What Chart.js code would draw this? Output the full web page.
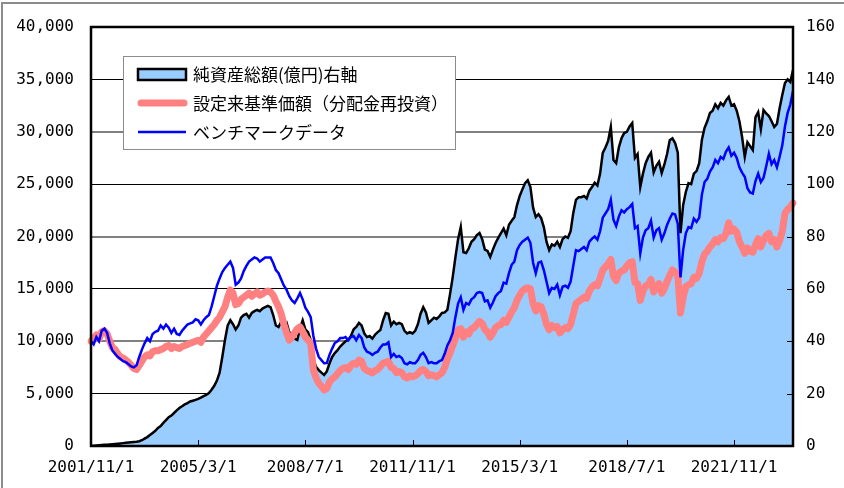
<!DOCTYPE html>
<html>
<head>
<meta charset="utf-8">
<script src="https://cdn.jsdelivr.net/npm/chart.js@4"></script>
<style>
  html, body { margin: 0; padding: 0; background: #fff; }
  canvas { display: block; }
</style>
</head>
<body>
<canvas id="fundChart" width="844" height="488"></canvas>
<script>
// monthly points, 2001/11 .. 2023/9
const startYear = 2001, startMonth = 11, pointCount = 263;
const tickLabels = ['2001/11/1', '2005/3/1', '2008/7/1', '2011/11/1', '2015/3/1', '2018/7/1', '2021/11/1'];

const seriesNames = ['純資産総額(億円)右軸', '設定来基準価額（分配金再投資）', 'ベンチマークデータ'];

// 純資産総額 (億円, right axis)
const netAssets = [
  0, 0.1,
  0.2, 0.3, 0.4, 0.5, 0.5, 0.6, 0.7, 0.8, 0.9, 1.0, 1.1, 1.2,
  1.3, 1.4, 1.5, 1.6, 1.8, 2.2, 2.8, 3.4, 4.2, 5.0, 5.8, 6.9,
  7.6, 8.8, 9.9, 11.0, 11.6, 12.6, 13.6, 14.5, 15.2, 15.9, 16.4, 17.0,
  17.3, 17.6, 18.0, 18.5, 19.0, 19.5, 20.2, 21.5, 23.0, 25.0, 28.0, 34.0,
  40.5, 46.0, 48.0, 46.5, 44.5, 46.0, 49.0, 50.0, 50.5, 49.0, 50.8, 51.5,
  52.0, 51.5, 52.5, 53.0, 53.5, 53.0, 50.0, 46.0, 45.4, 47.5, 46.0, 47.0,
  43.5, 42.0, 41.0, 40.5, 45.0, 48.0, 44.5, 43.5, 40.5, 33.0, 30.2, 29.0,
  28.0, 27.1, 28.5, 31.5, 34.0, 35.5, 36.6, 38.0, 39.0, 40.0, 40.5, 42.0,
  44.5, 45.5, 47.0, 46.0, 43.0, 41.6, 42.0, 41.0, 42.5, 43.5, 44.3, 48.0,
  50.8, 50.5, 46.0, 47.5, 46.5, 47.0, 46.5, 44.0, 43.0, 43.5, 43.0, 44.0,
  46.5, 50.5, 53.0, 51.0, 47.0, 48.0, 49.0, 48.5, 49.5, 50.8, 51.0, 52.0,
  58.0, 64.5, 72.0, 79.0, 83.6, 74.0, 73.7, 75.5, 78.0, 79.0, 80.5, 81.3,
  79.0, 75.0, 74.5, 72.2, 75.0, 77.5, 79.5, 81.3, 83.0, 80.5, 84.5, 86.0,
  87.4, 92.0, 95.5, 98.0, 100.4, 101.5, 98.9, 91.0, 87.4, 88.5, 87.0, 83.6,
  78.0, 74.8, 77.0, 76.5, 78.0, 76.0, 79.0, 80.0, 79.5, 82.0, 89.0, 94.0,
  95.0, 95.0, 95.5, 94.5, 97.5, 98.9, 100.5, 99.5, 104.0, 111.9, 114.0, 116.5,
  121.8, 109.2, 108.0, 114.0, 117.5, 119.5, 120.0, 122.0, 123.3, 110.0, 111.5, 98.9,
  104.0, 108.0, 110.4, 112.0, 104.5, 107.0, 108.5, 104.2, 107.5, 111.5, 116.8, 117.5,
  115.7, 112.0, 81.3, 92.0, 97.0, 100.4, 100.0, 104.0, 105.0, 108.0, 117.0, 121.5,
  124.0, 127.2, 128.0, 130.5, 129.0, 131.0, 130.0, 132.0, 133.3, 130.0, 130.5, 128.0,
  124.0, 118.0, 110.4, 116.0, 114.5, 113.0, 125.6, 127.5, 121.0, 128.3, 127.0, 126.0,
  124.0, 121.8, 123.0, 129.0, 134.0, 138.6, 140.0, 139.0, 143.6
];

// 設定来基準価額 (円, left axis)
const navReinvested = [
  10000, 10300,
  10600, 10200, 10900, 11000, 10700, 10000, 9400, 9200, 8800, 8500, 8400, 8200,
  8000, 7700, 7400, 7300, 7700, 8100, 8500, 8700, 8600, 9000, 9100, 9100,
  9200, 9300, 9500, 9600, 9300, 9500, 9400, 9300, 9500, 9600, 9700, 9800,
  9900, 10000, 10100, 9900, 10400, 10700, 11000, 11300, 11600, 12000, 12300, 12800,
  13300, 14200, 14900, 14600, 13500, 13600, 14000, 14200, 14400, 14600, 14300, 14500,
  14700, 14400, 14500, 14700, 14800, 14700, 14400, 13800, 13300, 12600, 11600, 10800,
  10100, 10400, 10800, 11200, 11360, 10900, 10400, 10100, 9800, 7250, 6500, 6000,
  5700, 5350, 5500, 6100, 6400, 6600, 6900, 7200, 7400, 7500, 7300, 7700,
  7900, 7800, 8200, 8100, 7400, 7200, 7100, 6970, 7200, 7300, 7600, 7900,
  8000, 8100, 7500, 7400, 7000, 7100, 7000, 6600, 6500, 6700, 6600, 6700,
  6900, 7200, 7300, 7100, 6700, 6800, 6700, 6600, 6800, 7000, 7500, 8300,
  8900, 9600, 10300, 11100, 11200, 10400, 10900, 10700, 11200, 11300, 11600, 11900,
  11700, 11100, 10900, 10400, 10800, 11300, 11500, 11600, 12000, 11800, 12300, 12800,
  13200, 13900, 14400, 14800, 15000, 15100, 15000, 13600, 12900, 13400, 13300, 12600,
  11600, 11100, 11500, 11300, 11400, 10800, 11100, 11300, 11200, 11600, 12600, 13600,
  13800, 14000, 14200, 14100, 14800, 15200, 15400, 15300, 16000, 16800, 17100, 17400,
  17800, 16200, 15800, 16500, 16700, 16800, 17200, 17500, 17600, 15600, 15500, 13900,
  14800, 15300, 15400, 15900, 14700, 15200, 15500, 14600, 15000, 15700, 16300, 16800,
  16600, 16300, 12700, 14200, 15200, 15400, 15500, 16100, 16000, 16500, 17600, 18300,
  18600, 19000, 19300, 19700, 19500, 19900, 19800, 20300, 21300, 20500, 20700, 20400,
  19500, 19000, 18400, 18900, 18600, 18500, 19200, 19800, 19000, 19600, 20100, 20300,
  19500, 19700, 19000, 19600, 20500, 22200, 22600, 22800, 23200
];

// ベンチマークデータ (left axis)
const benchmark = [
  10000, 9700,
  10400, 10000, 11000, 11200, 10800, 9800, 9100, 8800, 8500, 8300, 8100, 8000,
  7800, 7600, 7500, 7700, 8500, 9200, 9800, 10300, 10000, 10700, 10900, 11000,
  11500, 11200, 11600, 11300, 10800, 11200, 10700, 10600, 11000, 11300, 11600, 11700,
  11800, 12100, 12000, 11600, 12000, 12300, 12500, 13300, 14300, 15300, 16000, 16600,
  17000, 17300, 17600, 17000, 15400, 15600, 16000, 16700, 17200, 17600, 17800, 18000,
  17900, 17600, 17800, 18000, 18000, 18000, 17470, 16800, 16500, 15900, 15300, 14900,
  14300, 13900, 13650, 14100, 14600, 14000, 13200, 12800, 12300, 10500, 9300, 8500,
  8200, 7900, 7920, 8700, 9300, 9830, 10000, 10300, 10300, 10400, 10100, 10400,
  10500, 10100, 10600, 10300, 9400, 9000, 8900, 8700, 8900, 9000, 9400, 9700,
  9700, 9900, 8500, 8800, 8500, 8600, 8400, 7900, 7800, 8000, 7900, 7900,
  8200, 8700, 8900, 8500, 7900, 8000, 7900, 7900, 8100, 8200, 8800, 9600,
  10100, 10800, 12300, 13600, 14200, 13000, 13650, 13500, 14000, 14200, 14600, 14700,
  14600, 13800, 13900, 13200, 13700, 14300, 14600, 14800, 15600, 15500, 16500, 17300,
  17600, 18700, 19200, 19500, 19700, 19900, 19400, 17500, 16500, 17500, 17600, 16800,
  15700, 14600, 15100, 15000, 15400, 14400, 15200, 15300, 15100, 15700, 17200, 18700,
  18600, 18800, 19000, 18700, 19500, 19800, 20000, 19700, 20500, 21800, 22200, 22600,
  23500, 21600, 21000, 21900, 22500, 22300, 22600, 22800, 23100, 20800, 21000, 18400,
  19900, 20600, 20800, 21500, 19900, 20600, 20800, 19700, 20300, 21100, 21700, 22200,
  22100, 21200, 16100, 18700, 20300, 20900, 20800, 21700, 21400, 21800, 24000, 25200,
  25500, 26200, 26600, 27300, 27000, 27600, 27400, 28100, 28500, 27700, 28000, 27500,
  26600, 26100, 25700, 24600, 24200, 24100, 25300, 26000, 25200, 25600, 26700, 27900,
  26900, 27300, 26600, 27600, 28700, 30500, 31800, 32600, 33900
];

const labels = [];
for (let i = 0; i < pointCount; i++) {
  const t = (startMonth - 1) + i;
  labels.push((startYear + Math.floor(t / 12)) + '/' + (t % 12 + 1) + '/1');
}

// outer frame, plot border, inward ticks and the boxed legend
const decorations = {
  id: 'decorations',
  beforeDraw(chart) {
    const c = chart.ctx;
    c.save();
    c.strokeStyle = '#8c8c8c';
    c.lineWidth = 2;
    c.beginPath();
    c.moveTo(2, 500); c.lineTo(2, 3); c.lineTo(850, 3);
    c.stroke();
    c.restore();
  },
  afterDraw(chart) {
    const c = chart.ctx, a = chart.chartArea;
    const xs = chart.scales.x, y2 = chart.scales.y2;
    c.save();
    c.strokeStyle = '#000';
    c.lineWidth = 1;
    c.beginPath();
    for (let v = 20; v < 160; v += 20) {
      const py = Math.round(y2.getPixelForValue(v)) + 0.5;
      c.moveTo(a.right - 6, py); c.lineTo(a.right, py);
    }
    tickLabels.slice(1).forEach(l => {
      const px = Math.round(xs.getPixelForValue(labels.indexOf(l))) + 0.5;
      c.moveTo(px, a.bottom - 6); c.lineTo(px, a.bottom);
    });
    c.stroke();

    c.lineWidth = 2.5;
    c.strokeRect(a.left, a.top, a.right - a.left, a.bottom - a.top);

    // legend
    const bx = 123.5, by = 56.5, bw = 332, bh = 93;
    c.fillStyle = '#fff';
    c.fillRect(bx, by, bw, bh);
    c.strokeStyle = '#8c8c8c';
    c.lineWidth = 1;
    c.strokeRect(bx, by, bw, bh);

    const rows = [74, 103, 132];
    c.fillStyle = '#99CCFF';
    c.fillRect(138, 69, 48, 11);
    c.strokeStyle = '#000';
    c.lineWidth = 2.5;
    c.strokeRect(138, 69, 48, 11);

    c.lineCap = 'round';
    c.strokeStyle = '#FF8080';
    c.lineWidth = 7;
    c.beginPath(); c.moveTo(141, rows[1]); c.lineTo(184, rows[1]); c.stroke();
    c.lineCap = 'butt';
    c.strokeStyle = '#0000FF';
    c.lineWidth = 2.5;
    c.beginPath(); c.moveTo(138, rows[2]); c.lineTo(186, rows[2]); c.stroke();

    c.fillStyle = '#000';
    c.font = '17px "Noto Sans CJK JP"';
    c.textBaseline = 'middle';
    chart.data.datasets.forEach((ds, i) => c.fillText(ds.label, 193, rows[i] + 1));
    c.restore();
  }
};

Chart.defaults.font.family = '"DejaVu Sans Mono", monospace';
Chart.defaults.font.size = 16;
Chart.defaults.color = '#000';

new Chart(document.getElementById('fundChart').getContext('2d'), {
  type: 'line',
  data: {
    labels: labels,
    datasets: [{
      label: seriesNames[0],
      data: netAssets,
      yAxisID: 'y2',
      borderColor: '#000',
      borderWidth: 2.5,
      backgroundColor: '#99CCFF',
      fill: 'origin',
      order: 3
    }, {
      label: seriesNames[1],
      data: navReinvested,
      yAxisID: 'y',
      borderColor: '#FF8080',
      borderWidth: 7,
      borderCapStyle: 'round',
      borderJoinStyle: 'round',
      fill: false,
      order: 2
    }, {
      label: seriesNames[2],
      data: benchmark,
      yAxisID: 'y',
      borderColor: '#0000FF',
      borderWidth: 2.5,
      fill: false,
      order: 1
    }]
  },
  options: {
    responsive: false,
    animation: false,
    layout: { padding: { top: 27, left: 0, right: 0, bottom: 0 } },
    elements: { point: { radius: 0 }, line: { tension: 0 } },
    plugins: { legend: { display: false }, tooltip: { enabled: false } },
    scales: {
      x: {
        type: 'category',
        offset: false,
        grid: { display: false, drawTicks: false },
        border: { display: false },
        ticks: {
          autoSkip: false,
          maxRotation: 0,
          padding: 12,
          callback: function (v) {
            const l = this.getLabelForValue(v);
            return tickLabels.includes(l) ? l : null;
          }
        },
        afterFit: s => { s.height = 42; }
      },
      y: {
        position: 'left',
        min: 0,
        max: 40000,
        border: { display: false },
        grid: {
          drawTicks: false,
          color: ctx => ctx.tick.value % 10000 === 0 ? '#808080' : '#000',
          lineWidth: ctx => ctx.tick.value % 10000 === 0 ? 2 : 1
        },
        ticks: {
          stepSize: 5000,
          padding: 17,
          callback: v => v.toLocaleString('en-US')
        },
        afterFit: s => { s.width = 91; }
      },
      y2: {
        position: 'right',
        min: 0,
        max: 160,
        border: { display: false },
        grid: { display: false, drawTicks: false },
        ticks: { stepSize: 20, padding: 13 },
        afterFit: s => { s.width = 51; }
      }
    }
  },
  plugins: [decorations]
});
</script>
</body>
</html>
